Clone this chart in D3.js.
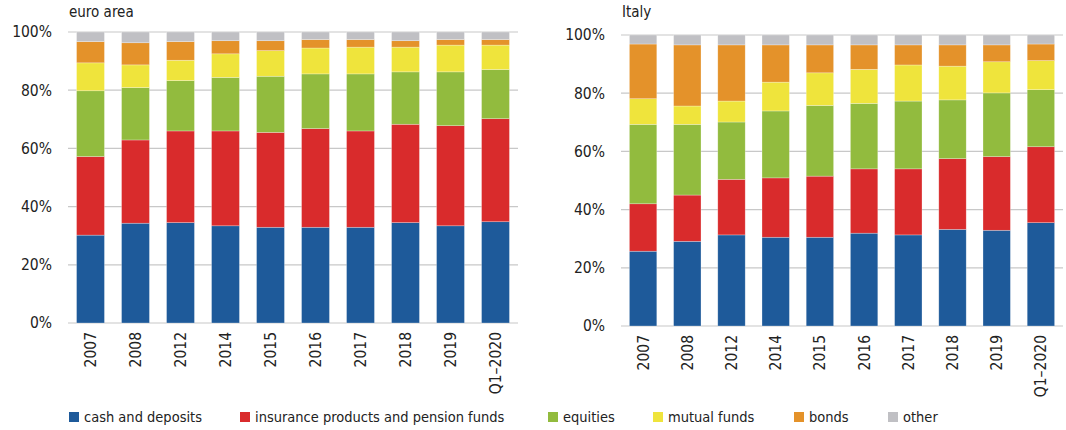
<!DOCTYPE html>
<html>
<head>
<meta charset="utf-8">
<script src="https://cdn.jsdelivr.net/npm/d3@7"></script>
<style>
  body { margin: 0; background: #fff; }
  svg { display: block; font-family: "DejaVu Sans Condensed", "DejaVu Sans", sans-serif; }
</style>
</head>
<body>
<svg id="chart" width="1066" height="430"></svg>
<script>
// categories on the x axis
var years = ["2007", "2008", "2012", "2014", "2015", "2016", "2017", "2018", "2019", "Q1-2020"];

var seriesNames = ["cash and deposits", "insurance products and pension funds", "equities", "mutual funds", "bonds", "other"];
var seriesKeys = ["cash", "insurance", "equities", "funds", "bonds", "other"];
var colors = ["#1e5a9a", "#d92b2c", "#92bb3e", "#efe43c", "#e4922a", "#c0c0c4"];

// euro area shares (%)
var euroCash      = [30.2, 34.3, 34.5, 33.4, 32.9, 32.9, 32.9, 34.5, 33.4, 34.8];
var euroInsurance = [27.0, 28.6, 31.5, 32.6, 32.6, 33.9, 33.1, 33.8, 34.4, 35.4];
var euroEquities  = [22.6, 18.0, 17.3, 18.4, 19.3, 18.8, 19.6, 18.0, 18.5, 16.9];
var euroFunds     = [ 9.6,  7.8,  7.0,  8.1,  8.8,  8.9,  9.2,  8.5,  9.2,  8.4];
var euroBonds     = [ 7.3,  7.6,  6.4,  4.5,  3.4,  2.9,  2.6,  2.2,  1.9,  1.9];
var euroOther     = [ 3.3,  3.7,  3.3,  3.0,  3.0,  2.6,  2.6,  3.0,  2.6,  2.6];

// Italy shares (%)
var italyCash      = [25.7, 29.1, 31.3, 30.5, 30.5, 31.9, 31.3, 33.2, 32.9, 35.5];
var italyInsurance = [16.3, 15.9, 19.1, 20.4, 21.0, 22.1, 22.7, 24.3, 25.3, 26.1];
var italyEquities  = [27.3, 24.3, 19.7, 23.0, 24.3, 22.5, 23.3, 20.2, 21.9, 19.6];
var italyFunds     = [ 8.8,  6.3,  7.2,  9.9, 11.2, 11.7, 12.4, 11.6, 10.7, 10.0];
var italyBonds     = [18.8, 21.0, 19.3, 12.8,  9.6,  8.4,  6.9,  7.3,  5.8,  5.7];
var italyOther     = [ 3.1,  3.4,  3.4,  3.4,  3.4,  3.4,  3.4,  3.4,  3.4,  3.1];

var yTicks = [0, 20, 40, 60, 80, 100];

function buildRows(arrs) {
    return years.map(function (y, i) {
        var row = { year: y };
        seriesKeys.forEach(function (k, j) { row[k] = arrs[j][i]; });
        return row;
    });
}

var svg = d3.select("#chart");

function drawPanel(opts) {
    var rows = buildRows(opts.data);

    var x = d3.scaleBand()
        .domain(years)
        .range([opts.x0, opts.x1])
        .paddingInner(0.38)
        .paddingOuter(0.19);

    var y = d3.scaleLinear()
        .domain([0, 100])
        .range([opts.yBottom, opts.yTop]);

    var g = svg.append("g");

    // gridlines
    g.selectAll("line.grid")
        .data(yTicks)
        .enter().append("line")
        .attr("class", "grid")
        .attr("x1", opts.x0)
        .attr("x2", opts.x1)
        .attr("y1", function (d) { return y(d); })
        .attr("y2", function (d) { return y(d); })
        .attr("stroke", "#c8c8c8")
        .attr("stroke-width", 1.2);

    // y tick labels
    g.selectAll("text.ytick")
        .data(yTicks)
        .enter().append("text")
        .attr("class", "ytick")
        .attr("x", opts.x0 - 16)
        .attr("y", function (d) { return y(d); })
        .attr("dy", "0.35em")
        .attr("text-anchor", "end")
        .attr("font-size", 15.5)
        .attr("fill", "#222")
        .text(function (d) { return d + "%"; });

    // stacked bars
    var stack = d3.stack().keys(seriesKeys)(rows);

    g.selectAll("g.layer")
        .data(stack)
        .enter().append("g")
        .attr("class", "layer")
        .attr("fill", function (d, i) { return colors[i]; })
        .selectAll("rect")
        .data(function (d) { return d; })
        .enter().append("rect")
        .attr("x", function (d) { return x(d.data.year); })
        .attr("width", x.bandwidth())
        .attr("y", function (d) { return y(d[1]); })
        .attr("height", function (d) { return y(d[0]) - y(d[1]); })
        .attr("stroke", "rgba(255,255,255,0.45)")
        .attr("stroke-width", 0.6);

    // x labels, rotated
    g.selectAll("text.xtick")
        .data(years)
        .enter().append("text")
        .attr("class", "xtick")
        .attr("transform", function (d) {
            return "translate(" + (x(d) + x.bandwidth() / 2) + "," + (opts.yBottom + 9) + ") rotate(-90)";
        })
        .attr("dy", "0.35em")
        .attr("text-anchor", "end")
        .attr("font-size", 15.5)
        .attr("fill", "#222")
        .text(function (d) { return d.replace("-", "\u2013"); });

    // title
    g.append("text")
        .attr("x", opts.x0 + 1)
        .attr("y", 17)
        .attr("font-size", 15)
        .attr("fill", "#222")
        .text(opts.title);
}

drawPanel({
    title: "euro area",
    data: [euroCash, euroInsurance, euroEquities, euroFunds, euroBonds, euroOther],
    x0: 68, x1: 518, yTop: 32, yBottom: 323
});

drawPanel({
    title: "Italy",
    data: [italyCash, italyInsurance, italyEquities, italyFunds, italyBonds, italyOther],
    x0: 621, x1: 1063, yTop: 35, yBottom: 326
});

// legend
var legendX = [69, 240, 548, 653, 794, 888];

var legend = svg.append("g")
    .selectAll("g")
    .data(seriesNames)
    .enter().append("g")
    .attr("transform", function (d, i) { return "translate(" + legendX[i] + ",412)"; });

legend.append("rect")
    .attr("width", 10)
    .attr("height", 10)
    .attr("fill", function (d, i) { return colors[i]; });

legend.append("text")
    .attr("x", 15)
    .attr("y", 10)
    .attr("font-size", 14.5)
    .attr("fill", "#222")
    .text(function (d) { return d; });
</script>
</body>
</html>
